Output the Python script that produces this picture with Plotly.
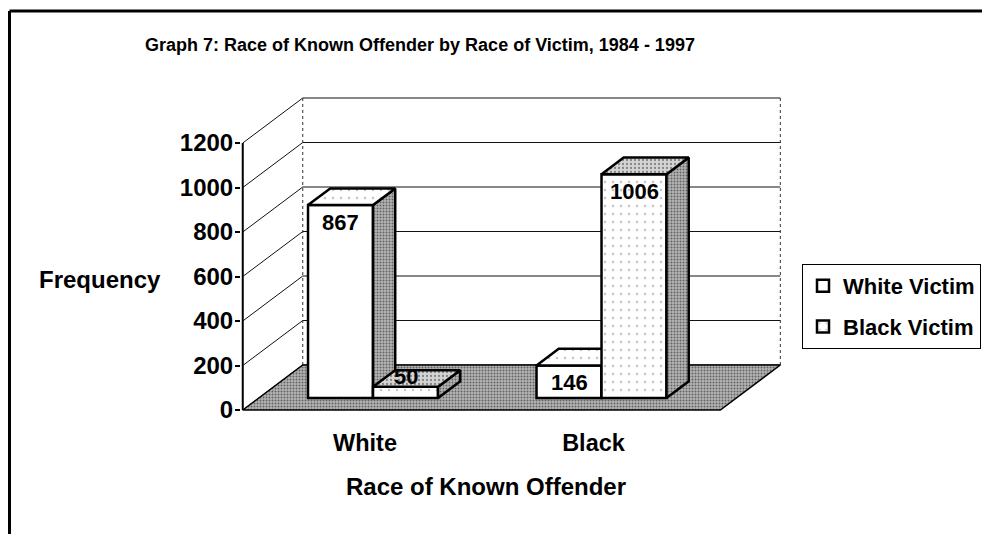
import plotly.graph_objects as go

# ---------------- data ----------------
categories = ["White", "Black"]
white_victim = [867, 146]
black_victim = [50, 1006]
series_names = ["White Victim", "Black Victim"]
y_ticks = [0, 200, 400, 600, 800, 1000, 1200]

title_text = "Graph 7: Race of Known Offender by Race of Victim, 1984 - 1997"
x_title = "Race of Known Offender"
y_title = "Frequency"

# ---------------- layout geometry (page pixels) ----------------
PAGE_W, PAGE_H = 990, 534
OFF = 8                                  # default page margin of the html body
W, H = PAGE_W - OFF, PAGE_H - OFF
L, R, T, B = 241, 790, 90, 416           # plot area in page pixels
PX_CAT = 228.5                           # pixels per category step
PX_VAL = 0.2225                          # pixels per value unit
CAT0_PX = 357                            # pixel x of category 0 (front plane)
VAL0_PY = 410                            # pixel y of value 0 (front plane)
DEPTH_DX, DEPTH_DY = 60, 45              # 3-D depth offset in pixels

x_range = [(L - CAT0_PX) / PX_CAT, (R - CAT0_PX) / PX_CAT]
y_range = [(VAL0_PY - B) / PX_VAL, (VAL0_PY - T) / PX_VAL]
DXu = DEPTH_DX / PX_CAT
DYu = DEPTH_DY / PX_VAL
F1 = 0.267            # depth of bar front face
F2 = F1 + 0.37        # depth of bar back face
BW = 65 / PX_CAT      # bar width in category units
X0, X1 = -0.5, 1.59   # floor / wall extent in category units
YMAX = y_ticks[-1]


def P(xc, v, d):
    return xc + d * DXu, v + d * DYu


def px2paper(px, py):
    return (px - L) / (R - L), (B - py) / (B - T)


def poly_trace(polys, yaxis, fillcolor="white", pattern=None, lw=2.5, lc="black"):
    xs, ys = [], []
    for pts in polys:
        for p in pts + [pts[0]]:
            xs.append(p[0]); ys.append(p[1])
        xs.append(None); ys.append(None)
    kw = dict(fillpattern=pattern) if pattern else {}
    return go.Scatter(x=xs, y=ys, mode="lines", fill="toself", fillcolor=fillcolor,
                      line=dict(color=lc, width=lw), yaxis=yaxis, hoverinfo="skip",
                      showlegend=False, **kw)


def line_trace(segs, yaxis="y", color="black", width=1, dash="solid"):
    xs, ys = [], []
    for seg in segs:
        for p in seg:
            xs.append(p[0]); ys.append(p[1])
        xs.append(None); ys.append(None)
    return go.Scatter(x=xs, y=ys, mode="lines", line=dict(color=color, width=width, dash=dash),
                      yaxis=yaxis, hoverinfo="skip", showlegend=False)


stipple_dark = dict(shape=".", fgcolor="#111111", bgcolor="#b4b4b4", size=3, solidity=0.35)
stipple_light = dict(shape=".", fgcolor="#888888", bgcolor="#ffffff", size=8, solidity=0.08)
stipple_mid = dict(shape=".", fgcolor="#333333", bgcolor="#d4d4d4", size=4, solidity=0.25)

fig = go.Figure()

# ---- walls & floor (base layer) ----
back_wall = [P(X0, 0, 1), P(X1, 0, 1), P(X1, YMAX, 1), P(X0, YMAX, 1)]
left_wall = [P(X0, 0, 0), P(X0, 0, 1), P(X0, YMAX, 1), P(X0, YMAX, 0)]
fig.add_trace(poly_trace([back_wall, left_wall], "y", lw=0, lc="white"))

grid = [[P(X0, v, 0), P(X0, v, 1), P(X1, v, 1)] for v in y_ticks]
fig.add_trace(line_trace(grid, color="#111111", width=1))
fig.add_trace(line_trace([[P(X0, 0, 1), P(X0, YMAX, 1)], [P(X1, 0, 1), P(X1, YMAX, 1)]],
                         color="#333333", width=1, dash="dot"))
fig.add_trace(line_trace([[P(X0, 0, 0), P(X0, YMAX, 0)]], color="black", width=2))

floor = [P(X0, 0, 0), P(X1, 0, 0), P(X1, 0, 1), P(X0, 0, 1)]
fig.add_trace(poly_trace([floor], "y", pattern=stipple_dark, lw=1.5))

# ---- bars (front faces through bar traces, depth faces as polygons) ----
series = [white_victim, black_victim]
offsets = [-BW, 0.0]
front_patterns = [None, stipple_light]
top_patterns = [stipple_light, stipple_mid]
axes_for = ["y2", "y3"]
annotations = []
FONT = "Liberation Sans, Arial"
label_font = dict(size=22, color="black", family=FONT)
axis_font = dict(size=24, color="black", family=FONT)

for s, (vals, off, name, yax) in enumerate(zip(series, offsets, series_names, axes_for)):
    xs = [i + F1 * DXu for i in range(len(categories))]
    marker = dict(color="white", line=dict(color="black", width=2.5))
    if front_patterns[s]:
        marker["pattern"] = front_patterns[s]
    fig.add_trace(go.Bar(x=xs, y=vals, base=F1 * DYu, width=BW, offset=off,
                         name=f"<b>{name}</b>", marker=marker, yaxis=yax,
                         legendgroup=name, hoverinfo="skip"))
    sides, tops = [], []
    for i, v in enumerate(vals):
        xl = i + off
        xr = xl + BW
        sides.append([P(xr, 0, F1), P(xr, v, F1), P(xr, v, F2), P(xr, 0, F2)])
        tops.append([P(xl, v, F1), P(xr, v, F1), P(xr, v, F2), P(xl, v, F2)])
        cx, cy = P(xl + BW / 2, v, F1)
        tall = v * PX_VAL > 25
        annotations.append(dict(x=cx, y=cy, xref="x", yref="y", text=f"<b>{v}</b>",
                                showarrow=False, yanchor="middle", xanchor="center",
                                yshift=-17 if tall else 10, font=label_font))
    fig.add_trace(poly_trace(sides, yax, pattern=stipple_dark, lw=2.5))
    fig.add_trace(poly_trace(tops, yax, pattern=top_patterns[s], lw=2.5))

# ---- text ----
fx, fy = px2paper(100, 279)
annotations.append(dict(x=fx, y=fy, xref="paper", yref="paper", text=f"<b>{y_title}</b>",
                        showarrow=False, xanchor="center", yanchor="middle", font=axis_font))
tx, ty = px2paper(486, 486)
annotations.append(dict(x=tx, y=ty, xref="paper", yref="paper", text=f"<b>{x_title}</b>",
                        showarrow=False, xanchor="center", yanchor="middle", font=axis_font))

# frame lines (page pixels)
a0 = px2paper(9.5, 11)
a1 = px2paper(990, 11)
a2 = px2paper(9.5, 534)
shapes = [
    dict(type="line", xref="paper", yref="paper", x0=a0[0], y0=a0[1], x1=a1[0], y1=a1[1],
         line=dict(color="black", width=3)),
    dict(type="line", xref="paper", yref="paper", x0=a0[0], y0=a0[1], x1=a2[0], y1=a2[1],
         line=dict(color="black", width=3)),
]

lx, ly = px2paper(802, 264)
font_main = dict(family=FONT, color="black")
fig.update_layout(
    width=W, height=H,
    margin=dict(l=L - OFF, r=PAGE_W - R, t=T - OFF, b=PAGE_H - B, pad=0, autoexpand=False),
    paper_bgcolor="white", plot_bgcolor="rgba(0,0,0,0)",
    barmode="overlay",
    title=dict(text=f"<b>{title_text}</b>", x=(420 - OFF) / W, y=1 - (45 - OFF) / H,
               xanchor="center", yanchor="middle", font=dict(size=18, **font_main)),
    xaxis=dict(range=x_range, showgrid=False, zeroline=False, showline=False,
               tickmode="array",
               tickvals=[i + 0.5 * F1 * DXu for i in range(len(categories))],
               ticktext=[f"<b>{c}</b>" for c in categories], ticks="",
               ticklabelstandoff=10, tickfont=dict(size=23.5, **font_main), fixedrange=True,
               automargin=False),
    yaxis=dict(range=y_range, showgrid=False, zeroline=False, showline=False,
               tickmode="array", tickvals=y_ticks, ticktext=[f"<b>{t}</b>" for t in y_ticks],
               ticks="outside", ticklen=5, tickcolor="black", tickwidth=1.5,
               ticklabelstandoff=-3, automargin=False,
               tickfont=dict(size=24, **font_main), fixedrange=True),
    yaxis2=dict(range=y_range, overlaying="y", visible=False, fixedrange=True),
    yaxis3=dict(range=y_range, overlaying="y", visible=False, fixedrange=True),
    legend=dict(x=lx, y=ly, xanchor="left", yanchor="top", bgcolor="white",
                bordercolor="black", borderwidth=1, tracegroupgap=9,
                font=dict(size=22, **font_main), itemclick=False),
    annotations=annotations,
    shapes=shapes,
)

fig.write_html("out.html")
